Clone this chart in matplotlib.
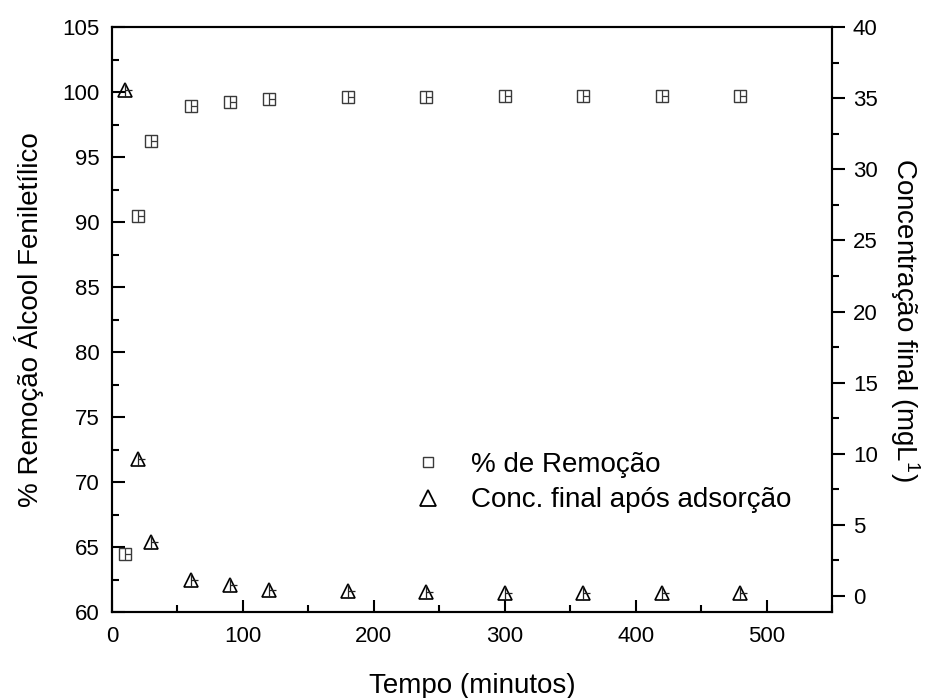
import matplotlib
matplotlib.use("Agg")
import matplotlib.pyplot as plt
from matplotlib.path import Path
from matplotlib.lines import Line2D
from matplotlib.ticker import MultipleLocator

plt.rcParams['font.family'] = ['Liberation Sans', 'DejaVu Sans']
plt.rcParams['mathtext.fontset'] = 'custom'
plt.rcParams['mathtext.rm'] = 'Liberation Sans'
plt.rcParams['mathtext.it'] = 'Liberation Sans'

# ---- data ----
tempo = [10, 20, 30, 60, 90, 120, 180, 240, 300, 360, 420, 480]
remocao = [64.5, 90.45, 96.25, 98.9, 99.25, 99.5, 99.62, 99.63, 99.7, 99.7, 99.7, 99.7]
conc_final = [35.55, 9.6, 3.78, 1.1, 0.75, 0.45, 0.35, 0.3, 0.22, 0.22, 0.22, 0.22]

xticks = [0, 100, 200, 300, 400, 500]
yticks_left = [60, 65, 70, 75, 80, 85, 90, 95, 100, 105]
yticks_right = [0, 5, 10, 15, 20, 25, 30, 35, 40]

label_rem = '% de Remoção'
label_conc = 'Conc. final após adsorção'

# crosshair marker (vertical line + half horizontal line)
cross = Path([(0, -1), (0, 1), (0, 0), (1, 0)],
             [Path.MOVETO, Path.LINETO, Path.MOVETO, Path.LINETO])

fig = plt.figure(figsize=(9.28, 6.98), dpi=100)
ax = fig.add_axes([112/928, 86/698, 720/928, 585/698])
ax2 = ax.twinx()

ax.plot(tempo, remocao, linestyle='none', marker='s', ms=8, mfc='none',
        mec='#3a3a3a', mew=1.0, zorder=3)
ax.plot(tempo, remocao, linestyle='none', marker=cross, ms=9,
        mec='#3a3a3a', mew=0.9, zorder=3)

ax2.plot(tempo, conc_final, linestyle='none', marker='^', ms=10, mfc='none',
         mec='black', mew=1.2, zorder=3)
ax2.plot(tempo, conc_final, linestyle='none', marker=cross, ms=10,
         mec='#222222', mew=0.9, zorder=3)

ax.set_xlim(0, 550)
ax.set_ylim(60, 105)
ax2.set_ylim(-1.12, 40)

ax.set_xticks(xticks)
ax.xaxis.set_minor_locator(MultipleLocator(50))
ax.set_yticks(yticks_left)
ax.yaxis.set_minor_locator(MultipleLocator(2.5))
ax2.set_yticks(yticks_right)
ax2.yaxis.set_minor_locator(MultipleLocator(2.5))

for a in (ax, ax2):
    for s in a.spines.values():
        s.set_linewidth(1.5)

ax.tick_params(axis='both', which='major', direction='in', length=9, width=1.5,
               labelsize=16, pad=9, top=False, right=False)
ax.tick_params(axis='both', which='minor', direction='in', length=5, width=1.5,
               top=False, right=False)
ax.tick_params(axis='x', which='major', pad=10)
ax2.tick_params(axis='y', which='major', direction='out', length=9, width=1.5,
                labelsize=16, pad=6)
ax2.tick_params(axis='y', which='minor', direction='out', length=5, width=1.5)

ax.set_xlabel('Tempo (minutos)', fontsize=20, labelpad=19)
ax.set_ylabel('% Remoção Álcool Feniletílico', fontsize=20, labelpad=13)
ax2.set_ylabel('Concentração final (mgL$^{1}$)', fontsize=20, rotation=270,
               labelpad=32)

handles = [
    Line2D([], [], linestyle='none', marker='s', ms=7, mfc='none', mec='#3a3a3a', mew=1.0),
    Line2D([], [], linestyle='none', marker='^', ms=12, mfc='none', mec='black', mew=1.3),
]
ax.legend(handles, [label_rem, label_conc], loc='upper left',
          bbox_to_anchor=(0.39, 0.298), frameon=False, fontsize=20,
          handlelength=1.5, handletextpad=0.8, labelspacing=0.35, borderpad=0)

fig.savefig('out.png', dpi=100)
